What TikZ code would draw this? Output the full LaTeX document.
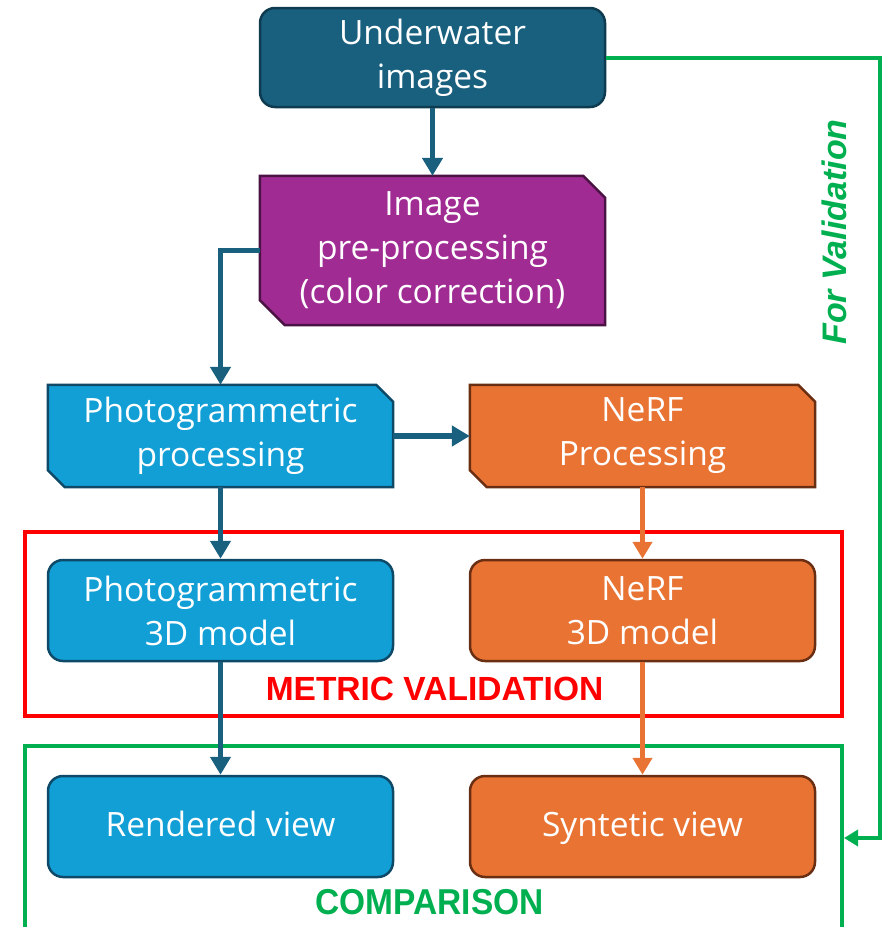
\documentclass[tikz,border=0pt]{standalone}
\usepackage{fontspec}
\setmainfont{Open Sans}
\newfontfamily\arialfont{Liberation Sans}
\usetikzlibrary{arrows.meta,backgrounds,calc}
\definecolor{teal}{HTML}{19607F}
\definecolor{tealdk}{HTML}{0E3B4F}
\definecolor{purp}{HTML}{A02B93}
\definecolor{purpdk}{HTML}{4B1244}
\definecolor{lblue}{HTML}{129FD6}
\definecolor{lbluedk}{HTML}{0E4A68}
\definecolor{orng}{HTML}{E87333}
\definecolor{orngdk}{HTML}{6A2E12}
\definecolor{grn}{HTML}{00B050}
\definecolor{rd}{HTML}{FF0000}
\tikzset{
  txt/.style={align=center, text=white, inner sep=0pt, minimum width=345pt,
    font=\fontsize{33.5}{44}\selectfont},
  rbox/.style={txt, draw=#1, line width=2.5pt, rounded corners=15pt},
  barrow/.style={draw=teal, line width=5.5pt, -{Triangle[width=20pt,length=18pt]}},
  oarrow/.style={draw=orng, line width=5pt, -{Triangle[width=19pt,length=17pt]}},
  garrow/.style={draw=grn, line width=4pt, -{Triangle[width=16pt,length=14pt]}},
  frame/.style={draw=#1, line width=4pt, inner sep=0pt},
}
\newcommand\snipbox[5]{%
  \path[fill=#2, draw=#3, line width=2.5pt]
    (#1.north west) -- ([xshift=-#4pt]#1.north east) -- ([yshift=-#4pt]#1.north east)
    -- (#1.south east) -- ([xshift=#5pt]#1.south west) -- ([yshift=#5pt]#1.south west) -- cycle;}
\begin{document}
\begin{tikzpicture}[x=1pt,y=-1pt]
\useasboundingbox (0,0) rectangle (889,927);
% frames
\node[frame=rd, minimum width=817pt, minimum height=184pt] (mframe) at (433.5,623.5) {};
\node[frame=grn, minimum width=817pt, minimum height=190pt] (cframe) at (433.5,841) {};
% boxes
\node[rbox=tealdk, fill=teal, minimum height=99pt] (uw) at (432.5,57.5) {Underwater\\images};
\node[txt, minimum height=149pt] (pre) at (432.5,250.5) {Image\\pre-processing\\(color correction)};
\node[txt, minimum height=102pt] (pp) at (220.5,436) {Photogrammetric\\processing};
\node[txt, minimum height=102pt] (np) at (642.5,436) {NeRF\\Processing};
\node[rbox=lbluedk, fill=lblue, minimum height=101pt] (pm) at (220.5,610.5) {Photogrammetric\\3D model};
\node[rbox=orngdk, fill=orng, minimum height=101pt] (nm) at (642.5,610.5) {NeRF\\3D model};
\node[rbox=lbluedk, fill=lblue, minimum height=101pt, text height=25pt, text depth=6pt] (rv) at (220.5,826.5) {Rendered view};
\node[rbox=orngdk, fill=orng, minimum height=101pt, text height=25pt, text depth=6pt] (sv) at (642.5,826.5) {Syntetic view};
\begin{pgfonlayer}{background}
\snipbox{pre}{purp}{purpdk}{22}{25}
\snipbox{pp}{lblue}{lbluedk}{17}{17}
\snipbox{np}{orng}{orngdk}{17}{17}
\end{pgfonlayer}
% labels
\node[text=rd, font=\arialfont\bfseries\fontsize{33.5}{40}\selectfont, inner sep=0pt] (mlab) at (434.5,688.5) {METRIC VALIDATION};
\node[text=grn, font=\arialfont\bfseries\fontsize{36}{40}\selectfont, inner sep=0pt, xscale=0.93] (clab) at (429.5,902) {COMPARISON};
\node[text=grn, font=\arialfont\bfseries\itshape\fontsize{34}{40}\selectfont, inner sep=0pt, rotate=90] (vlab) at (834,232) {For Validation};
% connectors
\draw[barrow] (uw) -- (pre);
\draw[barrow] (pre.west) -| (pp.north);
\draw[barrow] (pp.east) -- (np.west);
\draw[barrow] (pp) -- (pm);
\draw[oarrow] (np) -- (nm);
\draw[barrow] (pm) -- (rv);
\draw[oarrow] (nm) -- (sv);
\coordinate (gtop) at (880,57.5);
\coordinate (gbot) at (880,838);
\draw[garrow] (uw.east) -- (gtop) -- (gbot) -- (gbot -| cframe.east);
\end{tikzpicture}
\end{document}
